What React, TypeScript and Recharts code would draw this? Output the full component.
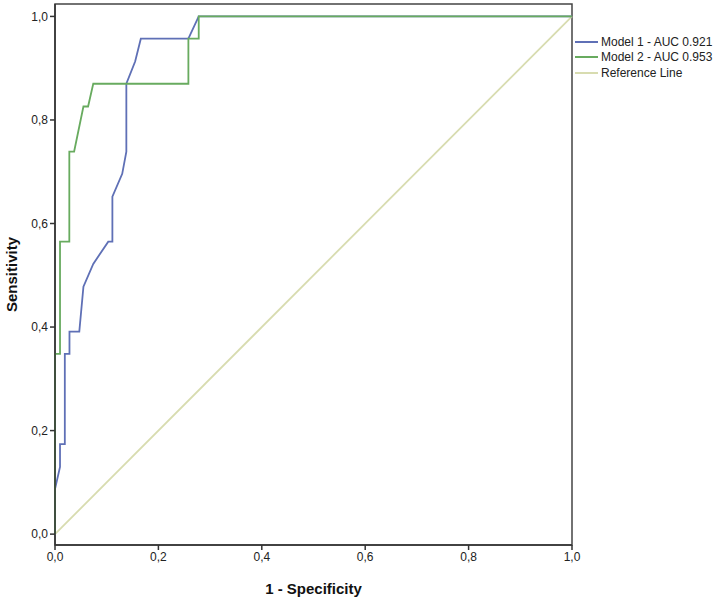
import React from 'react';
import {
  LineChart,
  Line,
  XAxis,
  YAxis,
  Legend,
  ReferenceArea,
} from 'recharts';

// 1 - specificity / sensitivity pairs
const model1Fpr = [0, 0, 0.0097, 0.0097, 0.019, 0.019, 0.028, 0.028, 0.047, 0.055, 0.074, 0.103, 0.111, 0.111, 0.13, 0.138, 0.138, 0.155, 0.166, 0.258, 0.278, 1];
const model1Tpr = [0, 0.087, 0.13, 0.174, 0.174, 0.348, 0.348, 0.391, 0.391, 0.478, 0.522, 0.565, 0.565, 0.652, 0.696, 0.739, 0.87, 0.913, 0.957, 0.957, 1, 1];

const model2Fpr = [0, 0, 0.0097, 0.0097, 0.0277, 0.0277, 0.037, 0.055, 0.064, 0.074, 0.258, 0.258, 0.278, 0.278, 1];
const model2Tpr = [0, 0.348, 0.348, 0.565, 0.565, 0.739, 0.739, 0.826, 0.826, 0.87, 0.87, 0.957, 0.957, 1, 1];

const refFpr = [0, 1];
const refTpr = [0, 1];

const ticks = [0, 0.2, 0.4, 0.6, 0.8, 1];

const seriesNames = ['Model 1 - AUC 0.921', 'Model 2 - AUC 0.953', 'Reference Line'];
const seriesColors = ['#5f70b6', '#68ab5f', '#d8dcb0'];

const toPoints = (xs: number[], ys: number[]) => xs.map((x, i) => ({ fpr: x, tpr: ys[i] }));

const model1 = toPoints(model1Fpr, model1Tpr);
const model2 = toPoints(model2Fpr, model2Tpr);
const refLine = toPoints(refFpr, refTpr);

const fmt = (v: number) => v.toFixed(1).replace('.', ',');

const font = 'Arial, "Liberation Sans", sans-serif';

const RocLegend = () => (
  <div style={{ fontFamily: font, fontSize: 12, color: '#222' }}>
    {seriesNames.map((name, i) => (
      <div key={name} style={{ display: 'flex', alignItems: 'center', height: 15.6 }}>
        <div style={{ width: 23, height: 2, background: seriesColors[i], marginRight: 3 }} />
        <span>{name}</span>
      </div>
    ))}
  </div>
);

const App = () => {
  return (
    <div style={{ position: 'absolute', left: 0, top: 0, width: 718, height: 602, background: '#fff' }}>
      <LineChart width={718} height={602} margin={{ top: 4, right: 146, bottom: 0, left: 0 }}>
        <XAxis
          type="number"
          dataKey="fpr"
          domain={[0, 1]}
          ticks={ticks}
          tickFormatter={fmt}
          height={57}
          stroke="#333"
          strokeWidth={1.5}
          tickSize={5}
          tick={{ fill: '#222', fontSize: 12, fontFamily: font }}
          label={{ value: '1 - Specificity', position: 'insideBottom', offset: 8, style: { fontWeight: 'bold', fontSize: 15, fill: '#111', fontFamily: font } }}
        />
        <YAxis
          type="number"
          dataKey="tpr"
          domain={[-0.021, 1.024]}
          ticks={ticks}
          tickFormatter={fmt}
          width={55}
          stroke="#333"
          strokeWidth={1.5}
          tickSize={5}
          tick={{ fill: '#222', fontSize: 12, fontFamily: font }}
          label={{ value: 'Sensitivity', angle: -90, position: 'insideLeft', offset: 12, style: { textAnchor: 'middle', fontWeight: 'bold', fontSize: 15, fill: '#111', fontFamily: font } }}
        />
        <ReferenceArea x1={0} x2={1} y1={-0.021} y2={1.024} fill="none" stroke="#444" strokeWidth={1.5} ifOverflow="visible" />
        <Legend
          layout="horizontal"
          verticalAlign="middle"
          align="center"
          content={<RocLegend />}
          wrapperStyle={{ left: 575, top: 34, width: 143 }}
        />
        <Line data={refLine} dataKey="tpr" name={seriesNames[2]} type="linear" stroke={seriesColors[2]} strokeWidth={1.8} dot={false} isAnimationActive={false} />
        <Line data={model1} dataKey="tpr" name={seriesNames[0]} type="linear" stroke={seriesColors[0]} strokeWidth={1.8} dot={false} isAnimationActive={false} />
        <Line data={model2} dataKey="tpr" name={seriesNames[1]} type="linear" stroke={seriesColors[1]} strokeWidth={1.8} dot={false} isAnimationActive={false} />
      </LineChart>
    </div>
  );
};

export default App;
